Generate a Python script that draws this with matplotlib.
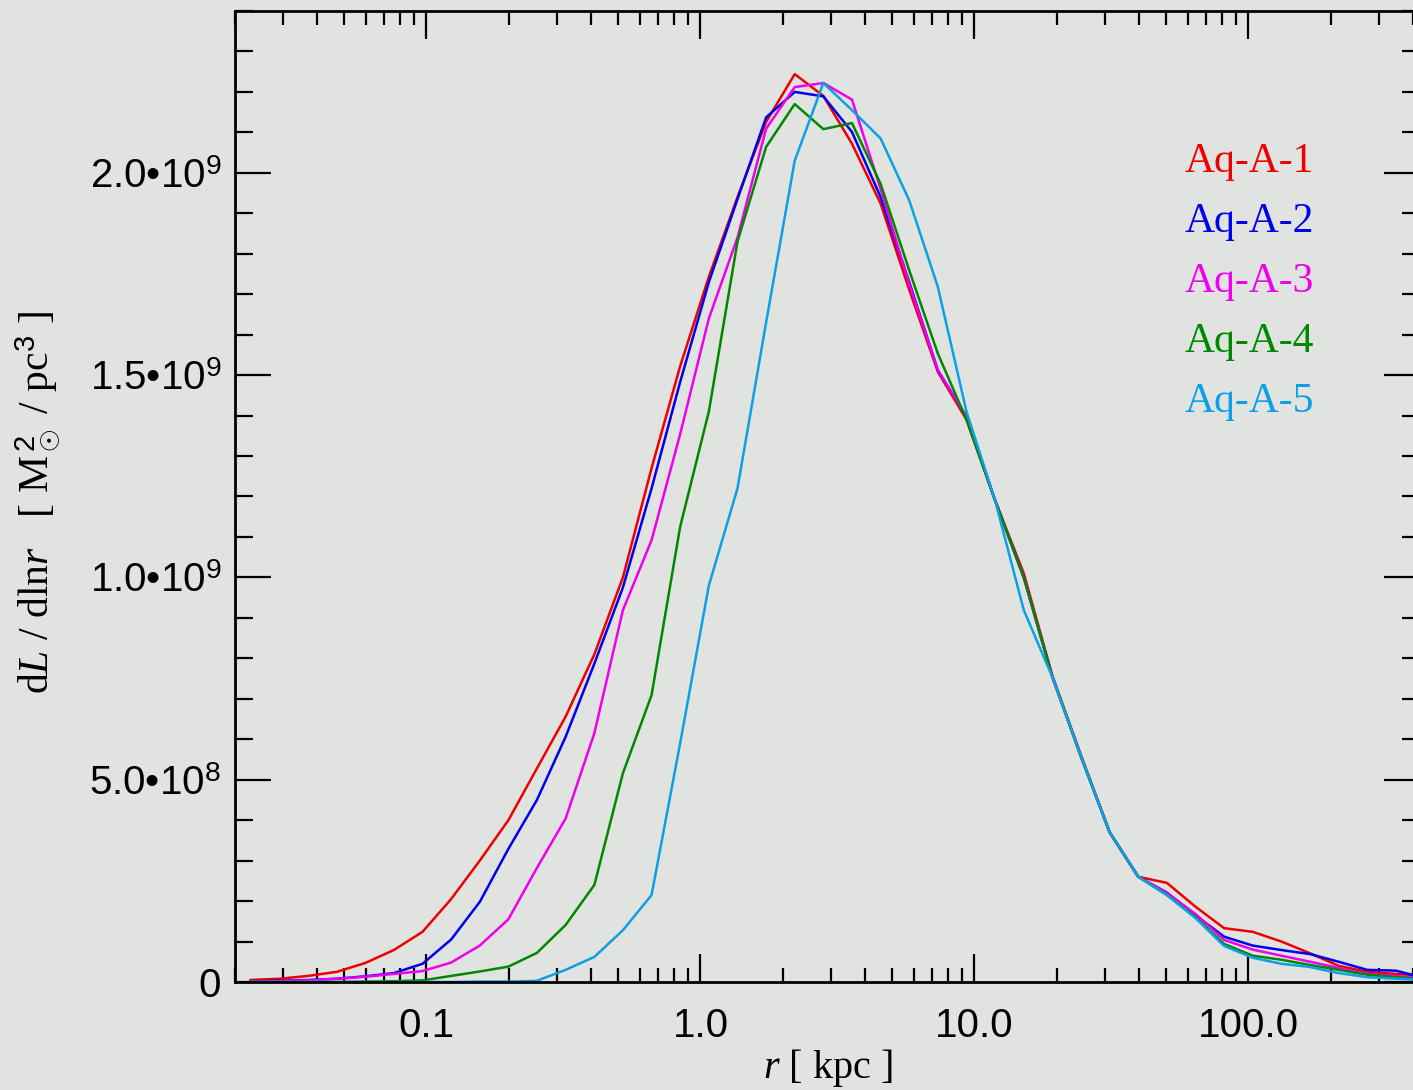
import numpy as np
import matplotlib
matplotlib.use("Agg")
import matplotlib.pyplot as plt
from matplotlib.ticker import FixedLocator, FixedFormatter, NullFormatter

plt.rcParams['font.family'] = ['Liberation Sans', 'DejaVu Sans']
plt.rcParams['mathtext.fontset'] = 'custom'
plt.rcParams['mathtext.rm'] = 'Liberation Sans'
plt.rcParams['mathtext.it'] = 'Liberation Serif:italic'
plt.rcParams['mathtext.bf'] = 'Liberation Sans:bold'

# radial bins [kpc]
r_kpc = [0.0228, 0.0290, 0.0369, 0.0470, 0.0598, 0.0760, 0.0967, 0.123, 0.1565, 0.199,
         0.253, 0.322, 0.410, 0.521, 0.663, 0.843, 1.073, 1.365, 1.736, 2.208,
         2.809, 3.573, 4.545, 5.781, 7.354, 9.354, 11.90, 15.14, 19.25, 24.49,
         31.16, 39.63, 50.41, 64.12, 81.56, 103.7, 132.0, 167.9, 213.5, 271.6,
         345.5, 439.5]

# dL/dlnr in units of 1e9
aq_a1 = [0.005, 0.008, 0.015, 0.025, 0.047, 0.079, 0.124, 0.205, 0.30, 0.40,
         0.528, 0.656, 0.81, 1.0, 1.27, 1.522, 1.743, 1.94, 2.126, 2.244,
         2.19, 2.072, 1.924, 1.711, 1.508, 1.39, 1.19, 1.01, 0.757, 0.56,
         0.37, 0.26, 0.245, 0.186, 0.133, 0.124, 0.10, 0.071, 0.04, 0.025,
         0.02, 0.015]
aq_a2 = [0.002, 0.003, 0.005, 0.008, 0.014, 0.022, 0.045, 0.105, 0.198, 0.329,
         0.45, 0.606, 0.787, 0.975, 1.22, 1.483, 1.73, 1.935, 2.137, 2.2,
         2.189, 2.101, 1.94, 1.73, 1.512, 1.397, 1.19, 1.0, 0.754, 0.557,
         0.37, 0.26, 0.221, 0.165, 0.112, 0.09, 0.079, 0.069, 0.05, 0.03,
         0.028, 0.01]
aq_a3 = [0.001, 0.002, 0.004, 0.008, 0.013, 0.02, 0.027, 0.048, 0.09, 0.155,
         0.282, 0.404, 0.615, 0.919, 1.092, 1.354, 1.64, 1.84, 2.109, 2.212,
         2.222, 2.181, 1.96, 1.725, 1.512, 1.397, 1.19, 1.0, 0.754, 0.557,
         0.37, 0.26, 0.22, 0.168, 0.104, 0.08, 0.065, 0.05, 0.035, 0.02,
         0.015, 0.008]
aq_a4 = [0.0, 0.0, 0.0, 0.0, 0.001, 0.002, 0.004, 0.015, 0.026, 0.038,
         0.072, 0.141, 0.24, 0.516, 0.709, 1.125, 1.41, 1.83, 2.064, 2.17,
         2.108, 2.123, 1.973, 1.759, 1.553, 1.39, 1.19, 1.0, 0.754, 0.557,
         0.37, 0.26, 0.215, 0.16, 0.094, 0.065, 0.055, 0.042, 0.03, 0.018,
         0.012, 0.006]
aq_a5 = [0.0, 0.0, 0.0, 0.0, 0.0, 0.0, 0.0, 0.0, 0.001, 0.001,
         0.003, 0.03, 0.062, 0.128, 0.215, 0.59, 0.98, 1.22, 1.63, 2.03,
         2.222, 2.155, 2.085, 1.932, 1.718, 1.41, 1.19, 0.919, 0.754, 0.557,
         0.37, 0.26, 0.215, 0.158, 0.089, 0.06, 0.045, 0.037, 0.022, 0.012,
         0.008, 0.005]

names = ['Aq-A-1', 'Aq-A-2', 'Aq-A-3', 'Aq-A-4', 'Aq-A-5']
colors = ['#ee0000', '#0000ee', '#ee00ee', '#008800', '#0ca0e6']
series = [aq_a1, aq_a2, aq_a3, aq_a4, aq_a5]

xtick_vals = [0.1, 1.0, 10.0, 100.0]
xtick_labels = ['0.1', '1.0', '10.0', '100.0']
ytick_vals = [0.0, 0.5e9, 1.0e9, 1.5e9, 2.0e9]
ytick_labels = ['0', '5.0\u202210$^8$', '1.0\u202210$^9$', '1.5\u202210$^9$', '2.0\u202210$^9$']

bg = '#e1e3e0'
fig = plt.figure(figsize=(14.13, 10.90), dpi=100, facecolor=bg)
ax = fig.add_axes([235 / 1413, 108 / 1090, 1185 / 1413, 971 / 1090])
ax.set_facecolor(bg)

r = np.array(r_kpc)
for vals, c in zip(series, colors):
    ax.plot(r, np.array(vals) * 1e9, color=c, lw=1.8)

ax.set_xscale('log')
ax.set_xlim(0.02, 423)
ax.set_ylim(0, 2.4e9)

ax.xaxis.set_major_locator(FixedLocator(xtick_vals))
ax.xaxis.set_major_formatter(FixedFormatter(xtick_labels))
minors = [m * d for d in [0.01, 0.1, 1, 10, 100] for m in range(2, 10)]
ax.xaxis.set_minor_locator(FixedLocator(minors))
ax.xaxis.set_minor_formatter(NullFormatter())

ax.yaxis.set_major_locator(FixedLocator(ytick_vals))
ax.yaxis.set_major_formatter(FixedFormatter(ytick_labels))
ax.yaxis.set_minor_locator(FixedLocator(np.arange(0, 2.41e9, 1e8)))

ax.tick_params(which='both', direction='in', top=True, right=True, width=1.6, color='black')
ax.tick_params(axis='x', which='major', length=20)
ax.tick_params(axis='x', which='minor', length=10)
ax.tick_params(axis='y', which='major', length=26)
ax.tick_params(axis='y', which='minor', length=13)
ax.tick_params(axis='y', labelsize=29, pad=10)
ax.tick_params(axis='x', labelsize=29, pad=18)
for s in ax.spines.values():
    s.set_linewidth(2.0)

ax.set_xlabel(r'$r$ [ kpc ]', fontsize=29, family='Liberation Serif')
ax.xaxis.set_label_coords(0.5, -0.067)
ax.set_ylabel(r'd$L$ / dln$r$   [ M$_\odot^{\,2}$ / pc$^3$ ]', fontsize=30, family='Liberation Serif')
ax.yaxis.set_label_coords(-0.146, 0.494)

for i, (name, c) in enumerate(zip(names, colors)):
    ax.text(0.8017, 0.8445 - i * 0.0618, name, transform=ax.transAxes, color=c,
            fontsize=30, family='Liberation Serif', va='center', ha='left')

fig.savefig('out.png', dpi=100, facecolor=bg)
